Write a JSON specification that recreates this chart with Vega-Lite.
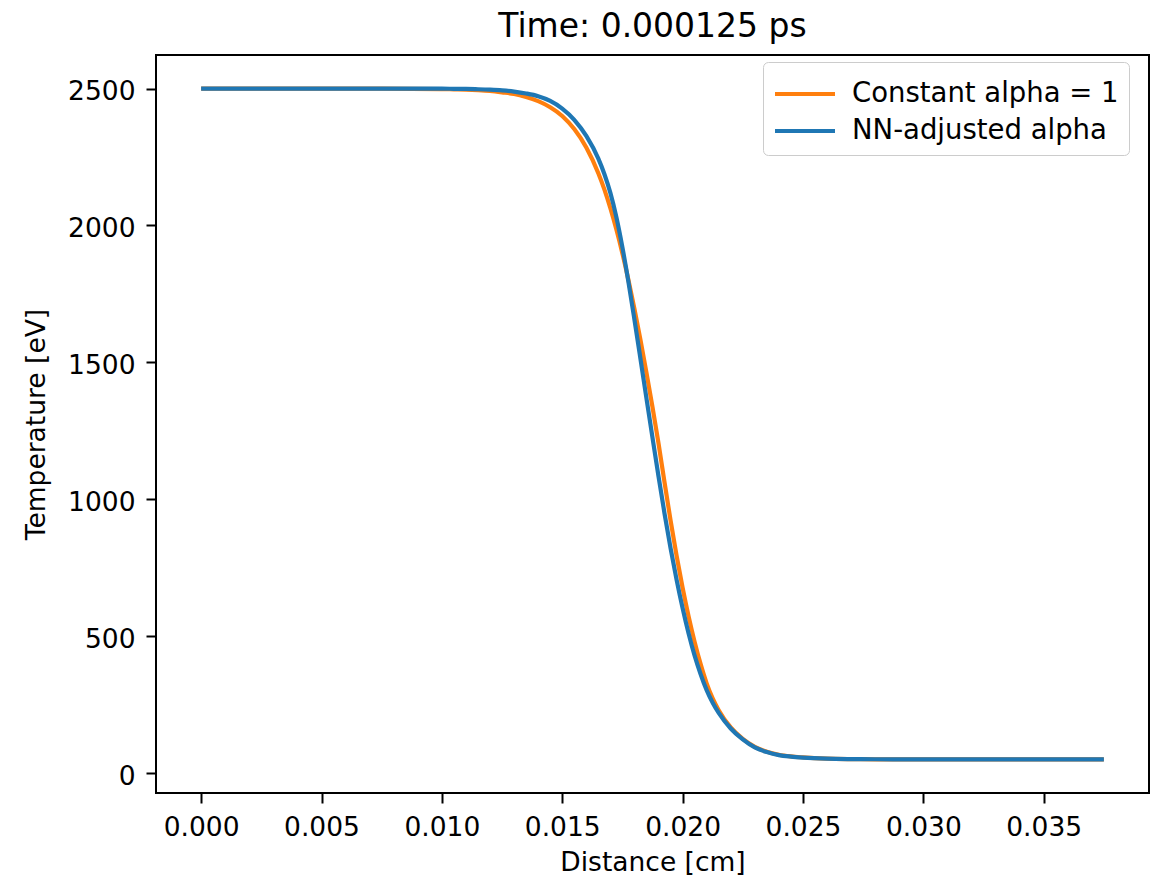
{
  "$schema": "https://vega.github.io/schema/vega-lite/v6.json",
  "width": 993,
  "height": 738,
  "autosize": {"type": "none"},
  "padding": {"left": 156, "top": 55, "right": 5, "bottom": 87},
  "background": "#ffffff",
  "config": {
    "font": "DejaVu Sans",
    "view": {"stroke": "#000000", "strokeWidth": 2},
    "axis": {
      "labelFont": "DejaVu Sans",
      "titleFont": "DejaVu Sans",
      "labelFontSize": 26.5,
      "titleFontSize": 26.5,
      "labelColor": "#000000",
      "titleColor": "#000000",
      "titleFontWeight": "normal",
      "tickColor": "#000000",
      "tickSize": 10,
      "tickWidth": 2,
      "domain": false,
      "grid": false,
      "labelFlush": false,
      "labelOverlap": false
    },
    "legend": {
      "labelFont": "DejaVu Sans",
      "labelFontSize": 27.5,
      "labelColor": "#000000",
      "labelLimit": 0
    }
  },
  "title": {
    "text": "Time: 0.000125 ps",
    "font": "DejaVu Sans",
    "fontSize": 33,
    "fontWeight": "normal",
    "color": "#000000",
    "anchor": "middle",
    "offset": 11
  },
  "data": {
    "values": [
      {"series": "Constant alpha = 1", "d": 0, "T": 2500},
      {"series": "Constant alpha = 1", "d": 0.0025, "T": 2500},
      {"series": "Constant alpha = 1", "d": 0.005, "T": 2500},
      {"series": "Constant alpha = 1", "d": 0.0075, "T": 2499.5},
      {"series": "Constant alpha = 1", "d": 0.01, "T": 2498},
      {"series": "Constant alpha = 1", "d": 0.0105, "T": 2497},
      {"series": "Constant alpha = 1", "d": 0.011, "T": 2496},
      {"series": "Constant alpha = 1", "d": 0.0115, "T": 2494},
      {"series": "Constant alpha = 1", "d": 0.012, "T": 2491},
      {"series": "Constant alpha = 1", "d": 0.0125, "T": 2486},
      {"series": "Constant alpha = 1", "d": 0.013, "T": 2480},
      {"series": "Constant alpha = 1", "d": 0.0135, "T": 2469},
      {"series": "Constant alpha = 1", "d": 0.014, "T": 2454},
      {"series": "Constant alpha = 1", "d": 0.0145, "T": 2432},
      {"series": "Constant alpha = 1", "d": 0.015, "T": 2400},
      {"series": "Constant alpha = 1", "d": 0.0155, "T": 2352},
      {"series": "Constant alpha = 1", "d": 0.016, "T": 2285},
      {"series": "Constant alpha = 1", "d": 0.0165, "T": 2191},
      {"series": "Constant alpha = 1", "d": 0.01675, "T": 2132},
      {"series": "Constant alpha = 1", "d": 0.017, "T": 2063},
      {"series": "Constant alpha = 1", "d": 0.01725, "T": 1985},
      {"series": "Constant alpha = 1", "d": 0.0175, "T": 1898},
      {"series": "Constant alpha = 1", "d": 0.01775, "T": 1801},
      {"series": "Constant alpha = 1", "d": 0.018, "T": 1695},
      {"series": "Constant alpha = 1", "d": 0.01825, "T": 1582},
      {"series": "Constant alpha = 1", "d": 0.0185, "T": 1462},
      {"series": "Constant alpha = 1", "d": 0.01875, "T": 1337},
      {"series": "Constant alpha = 1", "d": 0.019, "T": 1204},
      {"series": "Constant alpha = 1", "d": 0.01925, "T": 1062},
      {"series": "Constant alpha = 1", "d": 0.0195, "T": 923},
      {"series": "Constant alpha = 1", "d": 0.01975, "T": 794},
      {"series": "Constant alpha = 1", "d": 0.02, "T": 677},
      {"series": "Constant alpha = 1", "d": 0.02025, "T": 572},
      {"series": "Constant alpha = 1", "d": 0.0205, "T": 479},
      {"series": "Constant alpha = 1", "d": 0.02075, "T": 398},
      {"series": "Constant alpha = 1", "d": 0.021, "T": 328},
      {"series": "Constant alpha = 1", "d": 0.02125, "T": 273},
      {"series": "Constant alpha = 1", "d": 0.0215, "T": 230},
      {"series": "Constant alpha = 1", "d": 0.022, "T": 167},
      {"series": "Constant alpha = 1", "d": 0.0225, "T": 125},
      {"series": "Constant alpha = 1", "d": 0.023, "T": 96},
      {"series": "Constant alpha = 1", "d": 0.0235, "T": 78},
      {"series": "Constant alpha = 1", "d": 0.024, "T": 67},
      {"series": "Constant alpha = 1", "d": 0.0245, "T": 61},
      {"series": "Constant alpha = 1", "d": 0.025, "T": 57.5},
      {"series": "Constant alpha = 1", "d": 0.026, "T": 53},
      {"series": "Constant alpha = 1", "d": 0.027, "T": 51.3},
      {"series": "Constant alpha = 1", "d": 0.028, "T": 50.6},
      {"series": "Constant alpha = 1", "d": 0.03, "T": 50},
      {"series": "Constant alpha = 1", "d": 0.0325, "T": 50},
      {"series": "Constant alpha = 1", "d": 0.035, "T": 50},
      {"series": "Constant alpha = 1", "d": 0.0375, "T": 50},
      {"series": "NN-adjusted alpha", "d": 0, "T": 2500},
      {"series": "NN-adjusted alpha", "d": 0.0025, "T": 2500},
      {"series": "NN-adjusted alpha", "d": 0.005, "T": 2500},
      {"series": "NN-adjusted alpha", "d": 0.0075, "T": 2500},
      {"series": "NN-adjusted alpha", "d": 0.01, "T": 2499.5},
      {"series": "NN-adjusted alpha", "d": 0.0105, "T": 2499},
      {"series": "NN-adjusted alpha", "d": 0.011, "T": 2498.5},
      {"series": "NN-adjusted alpha", "d": 0.0115, "T": 2497.5},
      {"series": "NN-adjusted alpha", "d": 0.012, "T": 2496},
      {"series": "NN-adjusted alpha", "d": 0.0125, "T": 2493.5},
      {"series": "NN-adjusted alpha", "d": 0.013, "T": 2489},
      {"series": "NN-adjusted alpha", "d": 0.0135, "T": 2482},
      {"series": "NN-adjusted alpha", "d": 0.014, "T": 2472},
      {"series": "NN-adjusted alpha", "d": 0.0145, "T": 2455},
      {"series": "NN-adjusted alpha", "d": 0.015, "T": 2427},
      {"series": "NN-adjusted alpha", "d": 0.0155, "T": 2386},
      {"series": "NN-adjusted alpha", "d": 0.016, "T": 2327},
      {"series": "NN-adjusted alpha", "d": 0.0165, "T": 2244},
      {"series": "NN-adjusted alpha", "d": 0.01675, "T": 2188},
      {"series": "NN-adjusted alpha", "d": 0.017, "T": 2119},
      {"series": "NN-adjusted alpha", "d": 0.01725, "T": 2030},
      {"series": "NN-adjusted alpha", "d": 0.0175, "T": 1920},
      {"series": "NN-adjusted alpha", "d": 0.01775, "T": 1794},
      {"series": "NN-adjusted alpha", "d": 0.018, "T": 1656},
      {"series": "NN-adjusted alpha", "d": 0.01825, "T": 1513},
      {"series": "NN-adjusted alpha", "d": 0.0185, "T": 1368},
      {"series": "NN-adjusted alpha", "d": 0.01875, "T": 1225},
      {"series": "NN-adjusted alpha", "d": 0.019, "T": 1084},
      {"series": "NN-adjusted alpha", "d": 0.01925, "T": 948},
      {"series": "NN-adjusted alpha", "d": 0.0195, "T": 822},
      {"series": "NN-adjusted alpha", "d": 0.01975, "T": 707},
      {"series": "NN-adjusted alpha", "d": 0.02, "T": 603},
      {"series": "NN-adjusted alpha", "d": 0.02025, "T": 510},
      {"series": "NN-adjusted alpha", "d": 0.0205, "T": 429},
      {"series": "NN-adjusted alpha", "d": 0.02075, "T": 361},
      {"series": "NN-adjusted alpha", "d": 0.021, "T": 303},
      {"series": "NN-adjusted alpha", "d": 0.02125, "T": 257},
      {"series": "NN-adjusted alpha", "d": 0.0215, "T": 220},
      {"series": "NN-adjusted alpha", "d": 0.022, "T": 163},
      {"series": "NN-adjusted alpha", "d": 0.0225, "T": 123},
      {"series": "NN-adjusted alpha", "d": 0.023, "T": 94},
      {"series": "NN-adjusted alpha", "d": 0.0235, "T": 77},
      {"series": "NN-adjusted alpha", "d": 0.024, "T": 66},
      {"series": "NN-adjusted alpha", "d": 0.0245, "T": 60.5},
      {"series": "NN-adjusted alpha", "d": 0.025, "T": 57},
      {"series": "NN-adjusted alpha", "d": 0.026, "T": 53},
      {"series": "NN-adjusted alpha", "d": 0.027, "T": 51.4},
      {"series": "NN-adjusted alpha", "d": 0.028, "T": 50.7},
      {"series": "NN-adjusted alpha", "d": 0.03, "T": 50},
      {"series": "NN-adjusted alpha", "d": 0.0325, "T": 50},
      {"series": "NN-adjusted alpha", "d": 0.035, "T": 50},
      {"series": "NN-adjusted alpha", "d": 0.0375, "T": 50}
    ]
  },
  "encoding": {
    "x": {
      "field": "d",
      "type": "quantitative",
      "scale": {"domain": [-0.001875, 0.039375], "nice": false, "zero": false},
      "axis": {
        "title": "Distance [cm]",
        "values": [0, 0.005, 0.01, 0.015, 0.02, 0.025, 0.03, 0.035],
        "format": ".3f",
        "labelPadding": 11,
        "titlePadding": 9
      }
    },
    "y": {
      "field": "T",
      "type": "quantitative",
      "scale": {"domain": [-72.5, 2622.5], "nice": false, "zero": false},
      "axis": {
        "title": "Temperature [eV]",
        "values": [0, 500, 1000, 1500, 2000, 2500],
        "format": "d",
        "labelPadding": 11,
        "labelOffset": 3,
        "titlePadding": 17
      }
    },
    "color": {
      "field": "series",
      "type": "nominal",
      "scale": {
        "domain": ["Constant alpha = 1", "NN-adjusted alpha"],
        "range": ["#ff7f0e", "#1f77b4"]
      },
      "legend": {
        "title": null,
        "orient": "none",
        "legendX": 607,
        "legendY": 7,
        "padding": 10,
        "rowPadding": 1,
        "symbolType": "M-1.5,0H1.5",
        "symbolSize": 1600,
        "symbolStrokeWidth": 4,
        "symbolOffset": 10,
        "labelOffset": 25,
        "strokeColor": "#cccccc",
        "fillColor": "#ffffff",
        "cornerRadius": 5
      }
    }
  },
  "layer": [
    {
      "transform": [{"filter": "datum.series === 'Constant alpha = 1'"}],
      "mark": {"type": "line", "interpolate": "monotone", "strokeWidth": 4.2}
    },
    {
      "transform": [{"filter": "datum.series === 'NN-adjusted alpha'"}],
      "mark": {"type": "line", "interpolate": "monotone", "strokeWidth": 4.2}
    }
  ]
}
